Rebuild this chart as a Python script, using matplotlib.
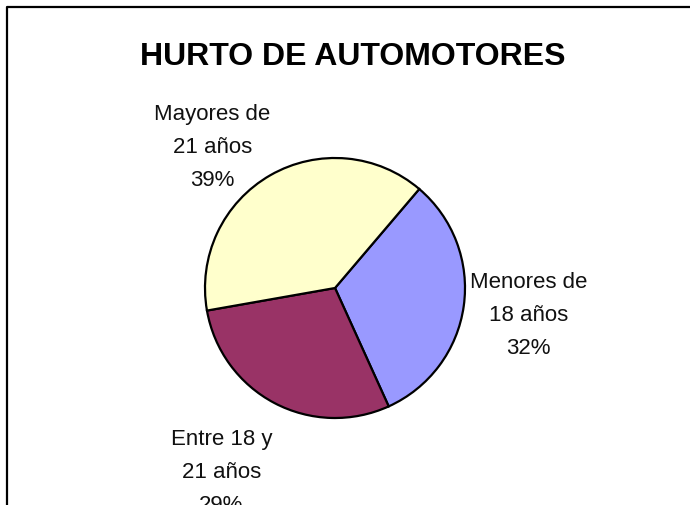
import numpy as np
import matplotlib.pyplot as plt

# grupos de edad, en el orden horario que sigue la torta
grupos = ["Menores de\n18 años", "Entre 18 y\n21 años", "Mayores de\n21 años"]
porcentajes = [32, 29, 39]
colores = ["#9999FF", "#993366", "#FFFFCC"]

titulo = "HURTO DE AUTOMOTORES"

W, H = 690, 506
fig = plt.figure(figsize=(W / 100, H / 100), dpi=100)
ax = fig.add_axes([0, 0, 1, 1])

centro = (335, H - 289)
radio = 130
inicio = 49.6

wedges, _ = ax.pie(porcentajes, colors=colores, startangle=inicio, counterclock=False,
                   center=centro, radius=radio,
                   wedgeprops=dict(edgecolor="black", linewidth=1.6))
ax.set_xlim(0, W)
ax.set_ylim(0, H)
ax.set_axis_off()

# distancia radial y ajuste angular de cada etiqueta
dist = [1.5, 1.66, 1.44]
ajuste = [0.3, -4.0, 11.2]
for w, texto, pct, d, da in zip(wedges, grupos, porcentajes, dist, ajuste):
    ang = np.deg2rad((w.theta1 + w.theta2) / 2 + da)
    x = centro[0] + d * radio * np.cos(ang)
    y = centro[1] + d * radio * np.sin(ang)
    ax.text(x, y, f"{texto}\n{pct}%", ha="center", va="center", fontsize=16,
            family="Liberation Sans", linespacing=1.75, color="#111111")

ax.text(353, H - 57, titulo, ha="center", va="center", fontsize=23,
        fontweight="bold", family="Liberation Sans")

# borde del área del gráfico (solo izquierda y arriba quedan dentro de la imagen)
ax.plot([7, 7, W + 5], [-5, H - 8, H - 8], color="black", lw=1.6,
        solid_capstyle="butt", clip_on=False)

fig.savefig("out.png", dpi=100)
